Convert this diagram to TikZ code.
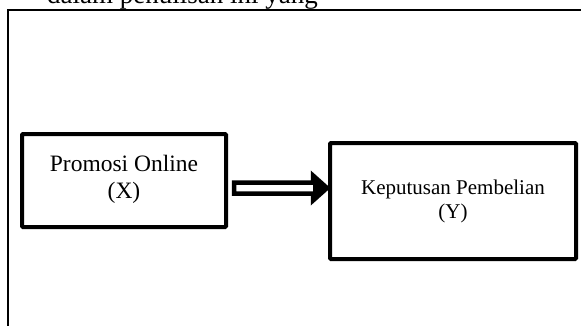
\documentclass[tikz,border=0pt]{standalone}
\usepackage{fontspec}
\setmainfont{Liberation Serif}
\usepackage{tikz}
\usetikzlibrary{calc}

\tikzset{
    varbox/.style={draw, line width=4pt, rounded corners=1pt, align=center, inner sep=0pt},
    linkarrow/.style={draw, line width=4.5pt, fill=white, line join=miter}
}

\begin{document}
\begin{tikzpicture}[x=1pt,y=-1pt]
    % fix page size
    \useasboundingbox (0,0) rectangle (581,325);

    % draw frame
    \draw[line width=2pt] (8,326) -- (8,10) -- (590,10);

    % draw text above frame
    \node[anchor=base west, inner sep=0pt, font=\fontsize{27}{31}\selectfont] (bodytext) at (47,3)
        {dalam penulisan ini yang};

    % draw boxes
    \node[varbox, minimum width=204pt, minimum height=93pt, font=\fontsize{23.5}{27}\selectfont]
        (promosi) at (124,180.5) {Promosi Online\\(X)\rule[-8pt]{0pt}{0pt}};
    \node[varbox, minimum width=246pt, minimum height=116pt, font=\fontsize{21}{24}\selectfont]
        (keputusan) at (453,201) {Keputusan Pembelian\\(Y)};

    % draw arrow
    \coordinate (arrowlevel) at (0,188);
    \coordinate (arrowstart) at ($(promosi.east |- arrowlevel)+(6,0)$);
    \coordinate (arrowend) at ($(keputusan.west |- arrowlevel)+(-1,0)$);
    \draw[linkarrow] ($(arrowstart)+(0,-5.5)$) -- ($(arrowend)+(-14,-5.5)$)
        -- ($(arrowend)+(-14,-12.5)$) -- (arrowend) -- ($(arrowend)+(-14,12.5)$)
        -- ($(arrowend)+(-14,5.5)$) -- ($(arrowstart)+(0,5.5)$) -- cycle;
    \fill ($(arrowend)+(-14,-12.5)$) -- (arrowend) -- ($(arrowend)+(-14,12.5)$) -- cycle;
\end{tikzpicture}
\end{document}
